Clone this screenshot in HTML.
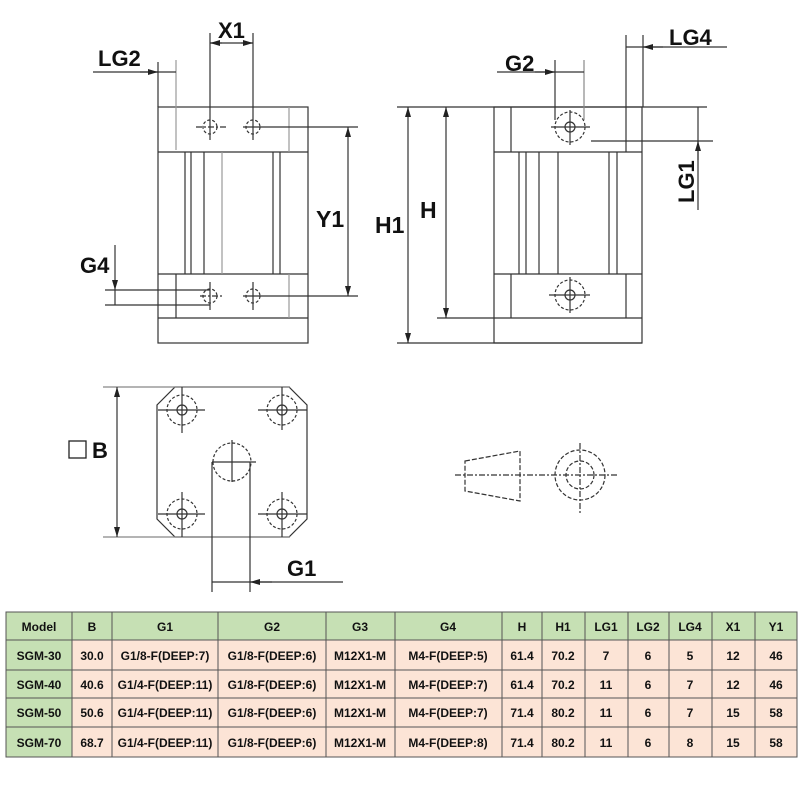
<!DOCTYPE html>
<html><head><style>
body{margin:0;background:#fff;width:800px;height:800px;overflow:hidden}
svg text{font-family:"Liberation Sans",Arial,sans-serif}
</style></head><body>
<svg width="800" height="800" viewBox="0 0 800 800" xmlns="http://www.w3.org/2000/svg">
<defs>
<marker id="a" viewBox="0 0 10 6" refX="10" refY="3" markerWidth="10" markerHeight="6" orient="auto-start-reverse" markerUnits="userSpaceOnUse"><path d="M0,0L10,3L0,6z" fill="#222"/></marker>
</defs>
<g stroke="#333" stroke-width="1.2" fill="none">
<rect x="158" y="107" width="150" height="236"/>
<line x1="158" y1="152" x2="308" y2="152"/>
<line x1="158" y1="274" x2="308" y2="274"/>
<line x1="158" y1="318" x2="308" y2="318"/>
<line x1="176" y1="60" x2="176" y2="150" stroke="#999"/>
<line x1="176" y1="274" x2="176" y2="318"/>
<line x1="289" y1="107" x2="289" y2="152" stroke="#999"/>
<line x1="289" y1="274" x2="289" y2="318" stroke="#999"/>
<line x1="185" y1="152" x2="185" y2="274"/><line x1="191" y1="152" x2="191" y2="274"/>
<line x1="204" y1="152" x2="204" y2="274"/><line x1="222" y1="152" x2="222" y2="274" stroke="#999"/>
<line x1="273" y1="152" x2="273" y2="274"/><line x1="280" y1="152" x2="280" y2="274"/>
<g stroke-dasharray="3,2">
<circle cx="210" cy="127" r="7"/><circle cx="253" cy="127" r="7"/>
<circle cx="210" cy="296" r="7"/><circle cx="253" cy="296" r="7"/>
</g>
<line x1="196" y1="127" x2="226" y2="127" stroke-dasharray="6,2,2,2"/>
<line x1="243" y1="127" x2="358" y2="127"/>
<line x1="200" y1="296" x2="222" y2="296" stroke-dasharray="6,2,2,2"/>
<line x1="243" y1="296" x2="358" y2="296"/>
<line x1="210" y1="33" x2="210" y2="140"/><line x1="253" y1="33" x2="253" y2="140"/>
<line x1="210" y1="43" x2="253" y2="43"/>
<line x1="222" y1="43" x2="210" y2="43" marker-end="url(#a)"/>
<line x1="241" y1="43" x2="253" y2="43" marker-end="url(#a)"/>
<line x1="158" y1="62" x2="158" y2="107"/>
<line x1="93" y1="72" x2="176" y2="72"/>
<line x1="140" y1="72" x2="158" y2="72" marker-end="url(#a)"/>
<line x1="348" y1="127" x2="348" y2="296" marker-start="url(#a)" marker-end="url(#a)"/>
<line x1="105" y1="290" x2="210" y2="290"/>
<line x1="105" y1="305" x2="210" y2="305"/>
<line x1="115" y1="245" x2="115" y2="290" marker-end="url(#a)"/>
<line x1="115" y1="290" x2="115" y2="305"/>
<line x1="210" y1="282" x2="210" y2="310"/><line x1="253" y1="282" x2="253" y2="310"/>

<line x1="397" y1="107" x2="707" y2="107"/>
<rect x="494" y="107" width="148" height="236"/>
<line x1="511" y1="107" x2="511" y2="152"/>
<line x1="494" y1="152" x2="642" y2="152"/>
<line x1="494" y1="274" x2="642" y2="274"/>
<line x1="437" y1="318" x2="642" y2="318"/>
<line x1="397" y1="343" x2="642" y2="343"/>
<line x1="511" y1="274" x2="511" y2="318"/>
<line x1="626" y1="35" x2="626" y2="152"/>
<line x1="626" y1="274" x2="626" y2="318"/>
<line x1="519" y1="152" x2="519" y2="274"/><line x1="526" y1="152" x2="526" y2="274"/>
<line x1="539" y1="152" x2="539" y2="274"/><line x1="558" y1="152" x2="558" y2="274"/>
<line x1="609" y1="152" x2="609" y2="274"/><line x1="617" y1="152" x2="617" y2="274"/>
<g stroke-dasharray="3,2"><circle cx="570" cy="127" r="15"/><circle cx="570" cy="295" r="15"/></g>
<circle cx="570" cy="127" r="5"/><circle cx="570" cy="295" r="5"/>
<line x1="551" y1="127" x2="590" y2="127"/><line x1="570" y1="110" x2="570" y2="145"/>
<line x1="549" y1="295" x2="590" y2="295"/><line x1="570" y1="277" x2="570" y2="313"/>
<line x1="408" y1="107" x2="408" y2="343" marker-start="url(#a)" marker-end="url(#a)"/>
<line x1="446" y1="107" x2="446" y2="318" marker-start="url(#a)" marker-end="url(#a)"/>
<line x1="555" y1="60" x2="555" y2="120"/><line x1="584" y1="60" x2="584" y2="120" stroke="#888"/>
<line x1="497" y1="72" x2="584" y2="72"/>
<line x1="535" y1="72" x2="555" y2="72" marker-end="url(#a)"/>
<line x1="643" y1="35" x2="643" y2="107"/>
<line x1="626" y1="47" x2="727" y2="47"/>
<line x1="663" y1="47" x2="643" y2="47" marker-end="url(#a)"/>
<line x1="591" y1="141" x2="713" y2="141"/>
<line x1="698" y1="107" x2="698" y2="210"/>
<line x1="698" y1="160" x2="698" y2="141" marker-end="url(#a)"/>

<path d="M175,387 L289,387 L307,405 L307,519 L289,537 L175,537 L157,519 L157,405 Z"/>
<line x1="103" y1="387" x2="290" y2="387" stroke="#888"/>
<line x1="103" y1="537" x2="290" y2="537" stroke="#888"/>
<line x1="117" y1="387" x2="117" y2="537" marker-start="url(#a)" marker-end="url(#a)"/>
<g stroke-dasharray="3,2">
<circle cx="182" cy="410" r="15"/><circle cx="282" cy="410" r="15"/>
<circle cx="182" cy="514" r="15"/><circle cx="282" cy="514" r="15"/>
<path d="M213,462 A19,19 0 1 1 251,462"/>
<path d="M213,462 A19,19 0 0 0 251,462"/>
</g>
<circle cx="182" cy="410" r="5"/><circle cx="282" cy="410" r="5"/>
<circle cx="182" cy="514" r="5"/><circle cx="282" cy="514" r="5"/>
<path d="M158,410H205M182,387V433M258,410H307M282,387V430M158,514H205M182,492V537M258,514H307M282,492V537"/>
<line x1="212" y1="462" x2="256" y2="462"/><line x1="232" y1="440" x2="232" y2="482"/>
<line x1="212" y1="462" x2="212" y2="592"/><line x1="250" y1="462" x2="250" y2="592"/>
<line x1="212" y1="582" x2="343" y2="582"/>
<line x1="272" y1="582" x2="250" y2="582" marker-end="url(#a)"/>

<path d="M465,461 L520,451 L520,501 L465,491 Z" stroke-dasharray="5,2"/>
<line x1="455" y1="475" x2="617" y2="475" stroke-dasharray="6,2,2,2"/>
<circle cx="580" cy="475" r="25" stroke-dasharray="4,2"/>
<circle cx="580" cy="475" r="14" stroke-dasharray="4,2"/>
<line x1="580" y1="443" x2="580" y2="515" stroke-dasharray="6,2,2,2"/>
</g>
<g font-weight="bold" fill="#111" font-size="22">
<text x="218" y="38">X1</text>
<text x="98" y="66">LG2</text>
<text x="316" y="227" font-size="23">Y1</text>
<text x="80" y="273">G4</text>
<text x="375" y="233" font-size="23">H1</text>
<text x="420" y="218" font-size="23">H</text>
<text x="505" y="71">G2</text>
<text x="669" y="45">LG4</text>
<text transform="translate(694,203) rotate(-90)">LG1</text>
<text x="287" y="576">G1</text>
<text x="92" y="458">B</text>
</g>
<rect x="69" y="441" width="17" height="17" fill="none" stroke="#222" stroke-width="1.3"/>

<g font-family="Liberation Sans, Arial, sans-serif" font-size="12" font-weight="bold" text-anchor="middle" fill="#111">
<rect x="6" y="612" width="791" height="28" fill="#c6e0b4"/>
<rect x="6" y="640" width="66" height="117" fill="#c6e0b4"/>
<rect x="72" y="640" width="725" height="117" fill="#fce4d6"/>
<g stroke="#555" stroke-width="1" fill="none">
<rect x="6" y="612" width="791" height="145"/>
<path d="M6,640H797M6,670H797M6,698H797M6,727H797"/>
<path d="M72,612V757M112,612V757M218,612V757M326,612V757M395,612V757M502,612V757M542,612V757M585,612V757M628,612V757M669,612V757M712,612V757M755,612V757"/>
</g>
<g>
<text x="39" y="631">Model</text><text x="92" y="631">B</text><text x="165" y="631">G1</text><text x="272" y="631">G2</text><text x="360" y="631">G3</text><text x="448" y="631">G4</text><text x="522" y="631">H</text><text x="563" y="631">H1</text><text x="606" y="631">LG1</text><text x="648" y="631">LG2</text><text x="690" y="631">LG4</text><text x="733" y="631">X1</text><text x="776" y="631">Y1</text>
</g>
<g>
<text x="39" y="660">SGM-30</text><text x="92" y="660">30.0</text><text x="165" y="660">G1/8-F(DEEP:7)</text><text x="272" y="660">G1/8-F(DEEP:6)</text><text x="360" y="660">M12X1-M</text><text x="448" y="660">M4-F(DEEP:5)</text><text x="522" y="660">61.4</text><text x="563" y="660">70.2</text><text x="606" y="660">7</text><text x="648" y="660">6</text><text x="690" y="660">5</text><text x="733" y="660">12</text><text x="776" y="660">46</text>
<text x="39" y="689">SGM-40</text><text x="92" y="689">40.6</text><text x="165" y="689">G1/4-F(DEEP:11)</text><text x="272" y="689">G1/8-F(DEEP:6)</text><text x="360" y="689">M12X1-M</text><text x="448" y="689">M4-F(DEEP:7)</text><text x="522" y="689">61.4</text><text x="563" y="689">70.2</text><text x="606" y="689">11</text><text x="648" y="689">6</text><text x="690" y="689">7</text><text x="733" y="689">12</text><text x="776" y="689">46</text>
<text x="39" y="717">SGM-50</text><text x="92" y="717">50.6</text><text x="165" y="717">G1/4-F(DEEP:11)</text><text x="272" y="717">G1/8-F(DEEP:6)</text><text x="360" y="717">M12X1-M</text><text x="448" y="717">M4-F(DEEP:7)</text><text x="522" y="717">71.4</text><text x="563" y="717">80.2</text><text x="606" y="717">11</text><text x="648" y="717">6</text><text x="690" y="717">7</text><text x="733" y="717">15</text><text x="776" y="717">58</text>
<text x="39" y="747">SGM-70</text><text x="92" y="747">68.7</text><text x="165" y="747">G1/4-F(DEEP:11)</text><text x="272" y="747">G1/8-F(DEEP:6)</text><text x="360" y="747">M12X1-M</text><text x="448" y="747">M4-F(DEEP:8)</text><text x="522" y="747">71.4</text><text x="563" y="747">80.2</text><text x="606" y="747">11</text><text x="648" y="747">6</text><text x="690" y="747">8</text><text x="733" y="747">15</text><text x="776" y="747">58</text>
</g>
</g>
</svg>
</body></html>
